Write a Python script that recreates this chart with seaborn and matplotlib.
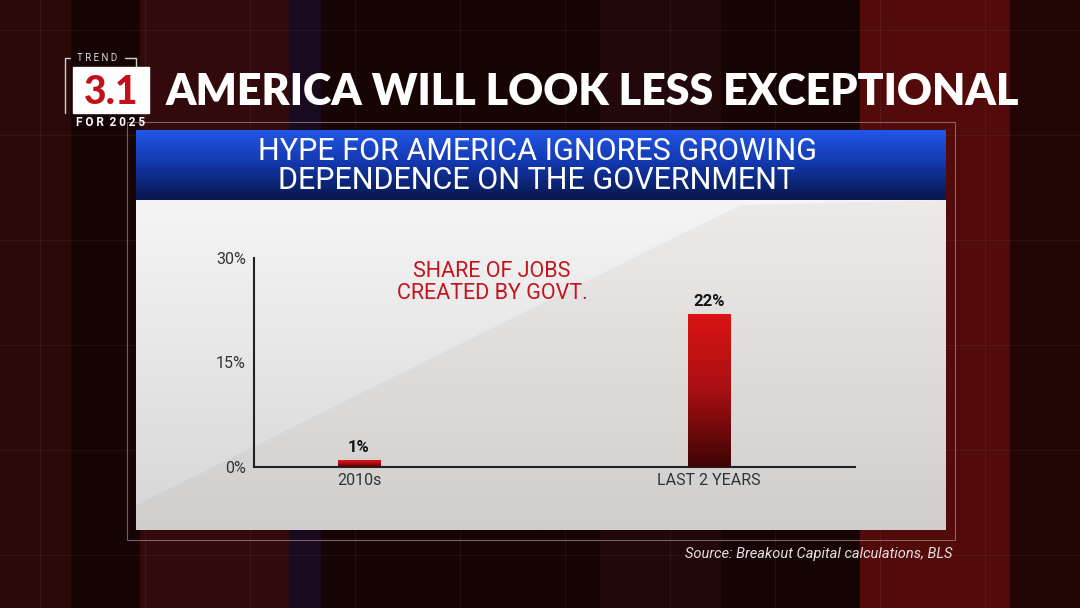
import numpy as np
import matplotlib
matplotlib.use("Agg")
import matplotlib.pyplot as plt
from matplotlib.patches import Rectangle, Polygon
from matplotlib.colors import LinearSegmentedColormap
import seaborn as sns

# ---- data ----
CATEGORIES = ["2010s", "LAST 2 YEARS"]
VALUES = [1, 22]
Y_TICKS = [0, 15, 30]
Y_TICK_LABELS = ["0%", "15%", "30%"]

TITLE = "AMERICA WILL LOOK LESS EXCEPTIONAL"
HEADER = "HYPE FOR AMERICA IGNORES GROWING\nDEPENDENCE ON THE GOVERNMENT"
SUBTITLE = "SHARE OF JOBS\nCREATED BY GOVT."
SOURCE = "Source: Breakout Capital calculations, BLS"

sns.set_theme(style="white")
plt.rcParams["font.family"] = ["Roboto", "DejaVu Sans"]

W, H = 1080, 608
fig = plt.figure(figsize=(10.8, 6.08), dpi=100)

# background layer in pixel coords
bg = fig.add_axes([0, 0, 1, 1])
bg.set_xlim(0, W)
bg.set_ylim(H, 0)
bg.axis("off")
bg.add_patch(Rectangle((0, 0), W, H, color="#170506", zorder=0))
for x0, w, c in [(0, 70, "#2a0909"), (140, 150, "#330a0b"), (290, 30, "#1a0a20"),
                 (600, 120, "#22080a"), (860, 150, "#520a0a"), (1010, 70, "#220606")]:
    bg.add_patch(Rectangle((x0, 0), w, H, color=c, zorder=0.5))
for gx in range(40, W, 105):
    bg.axvline(gx, color="#ffffff", alpha=0.05, lw=0.8, zorder=0.6)
for gy in range(30, H, 105):
    bg.axhline(gy, color="#ffffff", alpha=0.05, lw=0.8, zorder=0.6)

# outer thin frame
bg.add_patch(Rectangle((127, 122), 828, 418, fill=False, ec="#b0a0a0", lw=0.8, alpha=0.6, zorder=1))

# panel gradient
panel_cmap = LinearSegmentedColormap.from_list("panel", ["#f5f5f5", "#d6d6d6"])
bg.imshow(np.linspace(0, 1, 256).reshape(-1, 1), cmap=panel_cmap, aspect="auto",
          extent=(136, 946, 530, 200), zorder=2)
bg.add_patch(Polygon([(136, 530), (136, 505), (740, 205), (946, 200), (946, 530)],
                     closed=True, color="#8a7060", alpha=0.07, lw=0, zorder=2.1))

# blue header
head_cmap = LinearSegmentedColormap.from_list("head", ["#2257e8", "#1236a8", "#08164a"])
bg.imshow(np.linspace(0, 1, 256).reshape(-1, 1), cmap=head_cmap, aspect="auto",
          extent=(136, 946, 200, 130), zorder=2)
bg.text(537, 166, HEADER, color="white", fontsize=22, ha="center", va="center",
        linespacing=1.0, zorder=3)

# badge
bg.add_patch(Rectangle((73, 67), 76, 46, color="white", zorder=3))
bg.plot([70, 65, 65], [58, 58, 113], color="#cfcfcf", lw=1, zorder=2.5)
bg.plot([125, 136, 136], [58, 58, 67], color="#cfcfcf", lw=1, zorder=2.5)
bg.text(97, 58, "T R E N D", color="#d8d8d8", fontsize=7, ha="center", va="center", zorder=3)
bg.text(111, 92, "3.1", color="#c4101a", fontsize=28, fontweight="black",
        family=["Lato", "DejaVu Sans"], ha="center", va="center", zorder=4)
bg.text(111, 122, "F O R  2 0 2 5", color="white", fontsize=8.5, fontweight="bold",
        ha="center", va="center", zorder=3)

# title
bg.text(166, 92, TITLE, color="white", fontsize=31, fontweight="heavy",
        family=["Lato", "DejaVu Sans"], ha="left", va="center", zorder=3)

# source
bg.text(952, 554, SOURCE, color="#e6e0e0", fontsize=10.5, style="italic",
        ha="right", va="center", zorder=3)

# ---- chart ----
ax = fig.add_axes([254 / W, 1 - 467 / H, (855 - 254) / W, (467 - 258) / H])
ax.patch.set_alpha(0)
sns.barplot(x=CATEGORIES, y=VALUES, ax=ax, width=0.12, color="#c0121a", saturation=1)

bar_cmap = LinearSegmentedColormap.from_list("bar", ["#3e0404", "#a80f12", "#dc1414"])
grad = np.linspace(0, 1, 256).reshape(-1, 1)
for p in ax.patches:
    x0, y0 = p.get_x(), p.get_y()
    w, h = p.get_width(), p.get_height()
    im = ax.imshow(grad, cmap=bar_cmap, origin="lower", aspect="auto",
                   extent=(x0, x0 + w, y0, y0 + h), zorder=3)
    im.set_clip_path(p)
    p.set_facecolor("none")
    p.set_edgecolor("none")

for i, v in enumerate(VALUES):
    ax.text(i, v + 0.7, f"{v}%", ha="center", va="bottom", fontsize=12,
            fontweight="bold", color="#151515")

ax.text(0.396, 0.985, SUBTITLE, transform=ax.transAxes, ha="center", va="top",
        color="#c4141c", fontsize=15.5, linespacing=1.05)

ax.set_xlim(-0.30, 1.417)
ax.set_ylim(0, 30)
ax.set_yticks(Y_TICKS)
ax.set_yticklabels(Y_TICK_LABELS)
ax.tick_params(axis="both", length=0, labelsize=11.5, colors="#333333")
ax.tick_params(axis="y", pad=6)
ax.tick_params(axis="x", pad=4)
for s in ["top", "right"]:
    ax.spines[s].set_visible(False)
for s in ["left", "bottom"]:
    ax.spines[s].set_color("#222222")
    ax.spines[s].set_linewidth(1.5)
ax.set_xlabel("")
ax.set_ylabel("")
ax.grid(False)

fig.savefig("out.png", dpi=100)
